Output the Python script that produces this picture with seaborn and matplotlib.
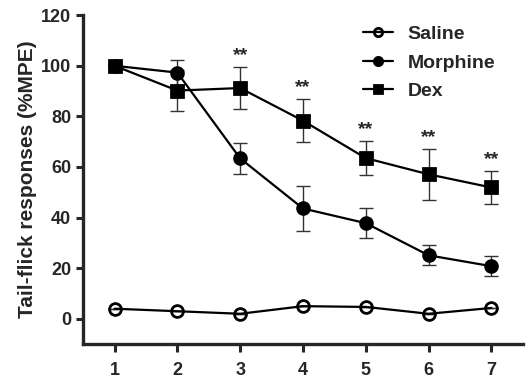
import numpy as np
import pandas as pd
import matplotlib
matplotlib.use("Agg")
import matplotlib.pyplot as plt
import seaborn as sns

# data
time_points = [1, 2, 3, 4, 5, 6, 7]
saline = [4.0, 3.0, 2.0, 5.0, 4.7, 2.0, 4.3]
saline_err = [0, 0, 0, 0, 0, 0, 0]
morphine = [100.0, 97.3, 63.4, 43.6, 37.8, 25.1, 20.8]
morphine_err = [0, 5.0, 6.0, 9.0, 6.0, 4.0, 4.0]
dex = [100.0, 90.2, 91.2, 78.3, 63.5, 57.1, 51.9]
dex_err = [0, 8.0, 8.2, 8.6, 6.8, 10.0, 6.5]
sig_points = [3, 4, 5, 6, 7]
sig_label = "**"

sns.set_theme(style="ticks")
plt.rcParams["font.family"] = ["Liberation Sans", "DejaVu Sans"]
plt.rcParams["font.weight"] = "bold"

groups = {
    "Saline": (saline, saline_err),
    "Morphine": (morphine, morphine_err),
    "Dex": (dex, dex_err),
}
rows = []
for name, (vals, errs) in groups.items():
    for t, v, e in zip(time_points, vals, errs):
        rows.append({"time": t, "value": v, "err": e, "group": name})
df = pd.DataFrame(rows)

fig = plt.figure(figsize=(5.26, 3.79), dpi=100)
ax = fig.add_axes([0.158, 0.092, 0.836, 0.868])

# error bars first so markers sit on top
for name, (vals, errs) in groups.items():
    ax.errorbar(time_points, vals, yerr=errs, fmt="none", ecolor="#333333",
                elinewidth=1.0, capsize=5, capthick=1.0, zorder=1)

marker_styles = {"Saline": "o", "Morphine": "o", "Dex": "s"}
face_colors = {"Saline": "none", "Morphine": "black", "Dex": "black"}
for name in groups:
    sub = df[df["group"] == name]
    sns.lineplot(data=sub, x="time", y="value", ax=ax, color="black",
                 linewidth=1.6, marker=marker_styles[name], markersize=8.5,
                 markerfacecolor=face_colors[name], markeredgecolor="black",
                 markeredgewidth=2.0, label=name, zorder=3)

# significance marks above Dex error bars
for t in sig_points:
    i = time_points.index(t)
    ax.text(t, dex[i] + dex_err[i] + 1.3, sig_label, ha="center", va="bottom",
            fontsize=14, fontweight="bold")

ax.set_xlim(0.5, 7.5)
ax.set_ylim(-10, 120)
ax.set_xticks(time_points)
ax.set_yticks([0, 20, 40, 60, 80, 100, 120])
ax.set_xlabel("")
ax.set_ylabel("Tail-flick responses (%MPE)", fontsize=15, fontweight="bold")
ax.yaxis.set_label_coords(-0.104, 0.5)
ax.tick_params(axis="both", labelsize=13, width=2.2, length=5, direction="out")
ax.tick_params(axis="x", length=6, pad=7)
for lab in ax.get_xticklabels() + ax.get_yticklabels():
    lab.set_fontweight("bold")
for side in ["left", "bottom"]:
    ax.spines[side].set_linewidth(2.4)
for side in ["top", "right"]:
    ax.spines[side].set_visible(False)

leg = ax.legend(loc="upper left", bbox_to_anchor=(0.671, 0.958),
                bbox_transform=fig.transFigure, frameon=False, borderpad=0,
                fontsize=14, handlelength=1.55, handletextpad=0.75,
                labelspacing=0.55, markerscale=0.7)
for txt in leg.get_texts():
    txt.set_fontweight("bold")

fig.savefig("out.png", dpi=100)
